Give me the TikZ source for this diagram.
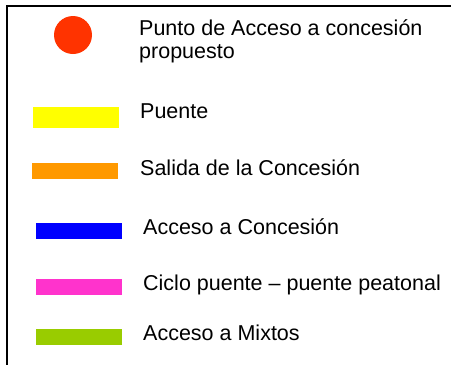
\documentclass[tikz,border=0pt]{standalone}
\usepackage{fontspec}
\setmainfont{Liberation Sans}
\definecolor{puntored}{HTML}{FF3300}
\definecolor{puenteyellow}{HTML}{FFFF00}
\definecolor{salidaorange}{HTML}{FF9900}
\definecolor{accesoblue}{HTML}{0000FF}
\definecolor{ciclopink}{HTML}{FF33CC}
\definecolor{mixtosgreen}{HTML}{99CC00}
\tikzset{
  legendbar/.style={draw=none, minimum width=86pt, minimum height=16pt, inner sep=0pt, anchor=north west},
  legendtext/.style={anchor=base west, inner sep=0pt, align=left,
    font=\fontsize{21.5}{23}\selectfont}
}

\begin{document}
\begin{tikzpicture}[x=1pt, y=-1pt]
    \useasboundingbox (0,0) rectangle (451,365);
    % Frame
    \draw[line width=2pt] (7,365) -- (7,6) -- (451,6);

    % Symbols
    \node[circle, fill=puntored, minimum size=38pt, inner sep=0pt] (punto) at (73,35) {};
    \node[legendbar, fill=puenteyellow, minimum height=21pt] (puente) at (33,107) {};
    \node[legendbar, fill=salidaorange] (salida) at (32,163) {};
    \node[legendbar, fill=accesoblue] (acceso) at (36,223) {};
    \node[legendbar, fill=ciclopink] (ciclo) at (36,279) {};
    \node[legendbar, fill=mixtosgreen] (mixtos) at (36,329) {};

    % Labels
    \node[legendtext] (puntotxt) at (139,58) {Punto de Acceso a concesión\\propuesto};
    \node[legendtext] (puentetxt) at (140,118) {Puente};
    \node[legendtext] (salidatxt) at (140,175) {Salida de la Concesión};
    \node[legendtext] (accesotxt) at (143,234) {Acceso a Concesión};
    \node[legendtext] (ciclotxt) at (143,290) {Ciclo puente -- puente peatonal};
    \node[legendtext] (mixtostxt) at (143,340) {Acceso a Mixtos};
\end{tikzpicture}
\end{document}
